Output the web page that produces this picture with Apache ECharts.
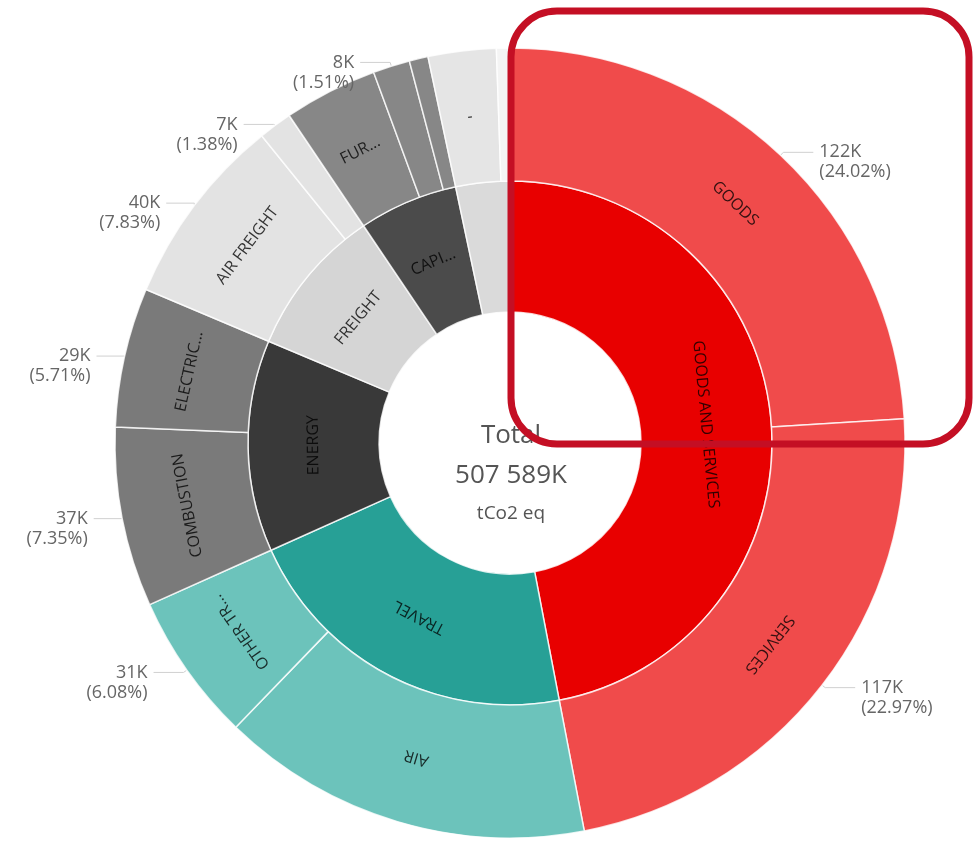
<!DOCTYPE html>
<html>
<head>
<meta charset="utf-8">
<script src="https://cdn.jsdelivr.net/npm/echarts@6/dist/echarts.min.js"></script>
<style>
  html, body { margin: 0; padding: 0; background: #fff; }
  #chart { width: 974px; height: 841px; }
</style>
</head>
<body>
<div id="chart"></div>
<script>
// Emission categories (inner ring) and their sub-categories (outer ring), tCO2 eq
const groups = ['GOODS AND SERVICES', 'TRAVEL', 'ENERGY', 'FREIGHT', 'CAPI...', ''];
const subNames = [
  ['GOODS', 'SERVICES'],
  ['AIR', 'OTHER TR...'],
  ['COMBUSTION', 'ELECTRIC...'],
  ['AIR FREIGHT', 'FREIGHT 2'],
  ['FUR...', 'CAPI 2', 'CAPI 3'],
  ['-', 'OTHER 2']
];
const subValues = [
  [121923, 116593],
  [77255, 30861],
  [37308, 28983],
  [39744, 7005],
  [19441, 7665, 3908],
  [14111, 2792]
];
// Sub-categories whose value label is shown outside the ring
const valueLabelNames = ['GOODS', 'SERVICES', 'OTHER TR...', 'COMBUSTION', 'ELECTRIC...',
  'AIR FREIGHT', 'FREIGHT 2', 'CAPI 2'];
const unitText = 'tCo2 eq';

// Palette
const innerColors = ['#e80000', '#27a096', '#393939', '#d5d5d5', '#4b4b4b', '#dadada'];
const outerColors = [
  ['#f04b4b', '#f04b4b'],
  ['#6cc3bb', '#6cc3bb'],
  ['#7a7a7a', '#7a7a7a'],
  ['#e3e3e3', '#e3e3e3'],
  ['#878787', '#878787', '#878787'],
  ['#e5e5e5', '#f4f4f4']
];

const total = subValues.flat().reduce((a, b) => a + b, 0);

// Tangential label orientation, reading clockwise around the ring
let cursor = 0;
const tree = groups.map((g, i) => {
  const gSum = subValues[i].reduce((a, b) => a + b, 0);
  const gStart = cursor;
  const gMid = gStart + gSum / total * 180;
  let c = gStart;
  const children = subNames[i].map((n, j) => {
    const span = subValues[i][j] / total * 360;
    const mid = c + span / 2;
    c += span;
    return {
      name: n,
      value: subValues[i][j],
      itemStyle: { color: outerColors[i][j] },
      label: { rotate: -mid }
    };
  });
  cursor += gSum / total * 360;
  return {
    name: g,
    itemStyle: { color: innerColors[i] },
    label: { rotate: -gMid },
    children
  };
});

const leaves = [];
subNames.forEach((names, i) => names.forEach((n, j) => {
  const show = valueLabelNames.includes(n);
  leaves.push({
    name: n,
    value: subValues[i][j],
    label: { show },
    labelLine: { show }
  });
}));

function fmtTotal(v) {
  return String(v).replace(/\B(?=(\d{3})+(?!\d))/g, ' ') + 'K';
}

const CX = 510, CY = 443;
const R0 = 131, R1 = 262, R2 = 395;
const segLabel = {
  fontFamily: 'Open Sans',
  fontSize: 16,
  color: 'rgba(0,0,0,0.78)',
  minAngle: 6
};

const chart = echarts.init(document.getElementById('chart'), null, { renderer: 'canvas' });
chart.setOption({
  backgroundColor: '#fff',
  animation: false,
  series: [
    {
      type: 'sunburst',
      center: [CX, CY],
      radius: [R0, R2],
      sort: null,
      nodeClick: false,
      emphasis: { disabled: true },
      itemStyle: { borderColor: 'rgba(255,255,255,0.8)', borderWidth: 1.5 },
      label: segLabel,
      levels: [
        {},
        { r0: R0, r: R1, label: segLabel },
        { r0: R1, r: R2, label: segLabel }
      ],
      data: tree
    },
    {
      type: 'pie',
      center: [CX, CY],
      radius: [R1, R2],
      startAngle: 90,
      clockwise: true,
      silent: true,
      emphasis: { disabled: true },
      itemStyle: { color: 'rgba(0,0,0,0)', borderWidth: 0 },
      label: {
        position: 'outside',
        fontFamily: 'Open Sans',
        fontSize: 18,
        lineHeight: 20,
        color: '#666',
        distanceToLabelLine: 6,
        // leading empty line keeps the value line level with the leader line
        formatter: p => ' \n' + Math.round(p.value / 1000) + 'K\n(' + (p.value / total * 100).toFixed(2) + '%)'
      },
      labelLine: {
        length: 4,
        length2: 30,
        lineStyle: { color: '#d0d0d0', width: 1 }
      },
      data: leaves
    }
  ],
  graphic: [
    {
      type: 'text', x: CX + 1, y: 436, z: 50,
      style: { text: 'Total', textAlign: 'center', textVerticalAlign: 'middle',
        font: '26px "Open Sans"', fill: '#555' }
    },
    {
      type: 'text', x: CX + 1, y: 476, z: 50,
      style: { text: fmtTotal(total), textAlign: 'center', textVerticalAlign: 'middle',
        font: '26px "Open Sans"', fill: '#555' }
    },
    {
      type: 'text', x: CX + 1, y: 514, z: 50,
      style: { text: unitText, textAlign: 'center', textVerticalAlign: 'middle',
        font: '19px "Open Sans"', fill: '#555' }
    },
    {
      type: 'rect', z: 100,
      shape: { x: 511, y: 11, width: 458, height: 433, r: 46 },
      style: { fill: 'none', stroke: '#c40f24', lineWidth: 7 }
    }
  ]
});
</script>
</body>
</html>
